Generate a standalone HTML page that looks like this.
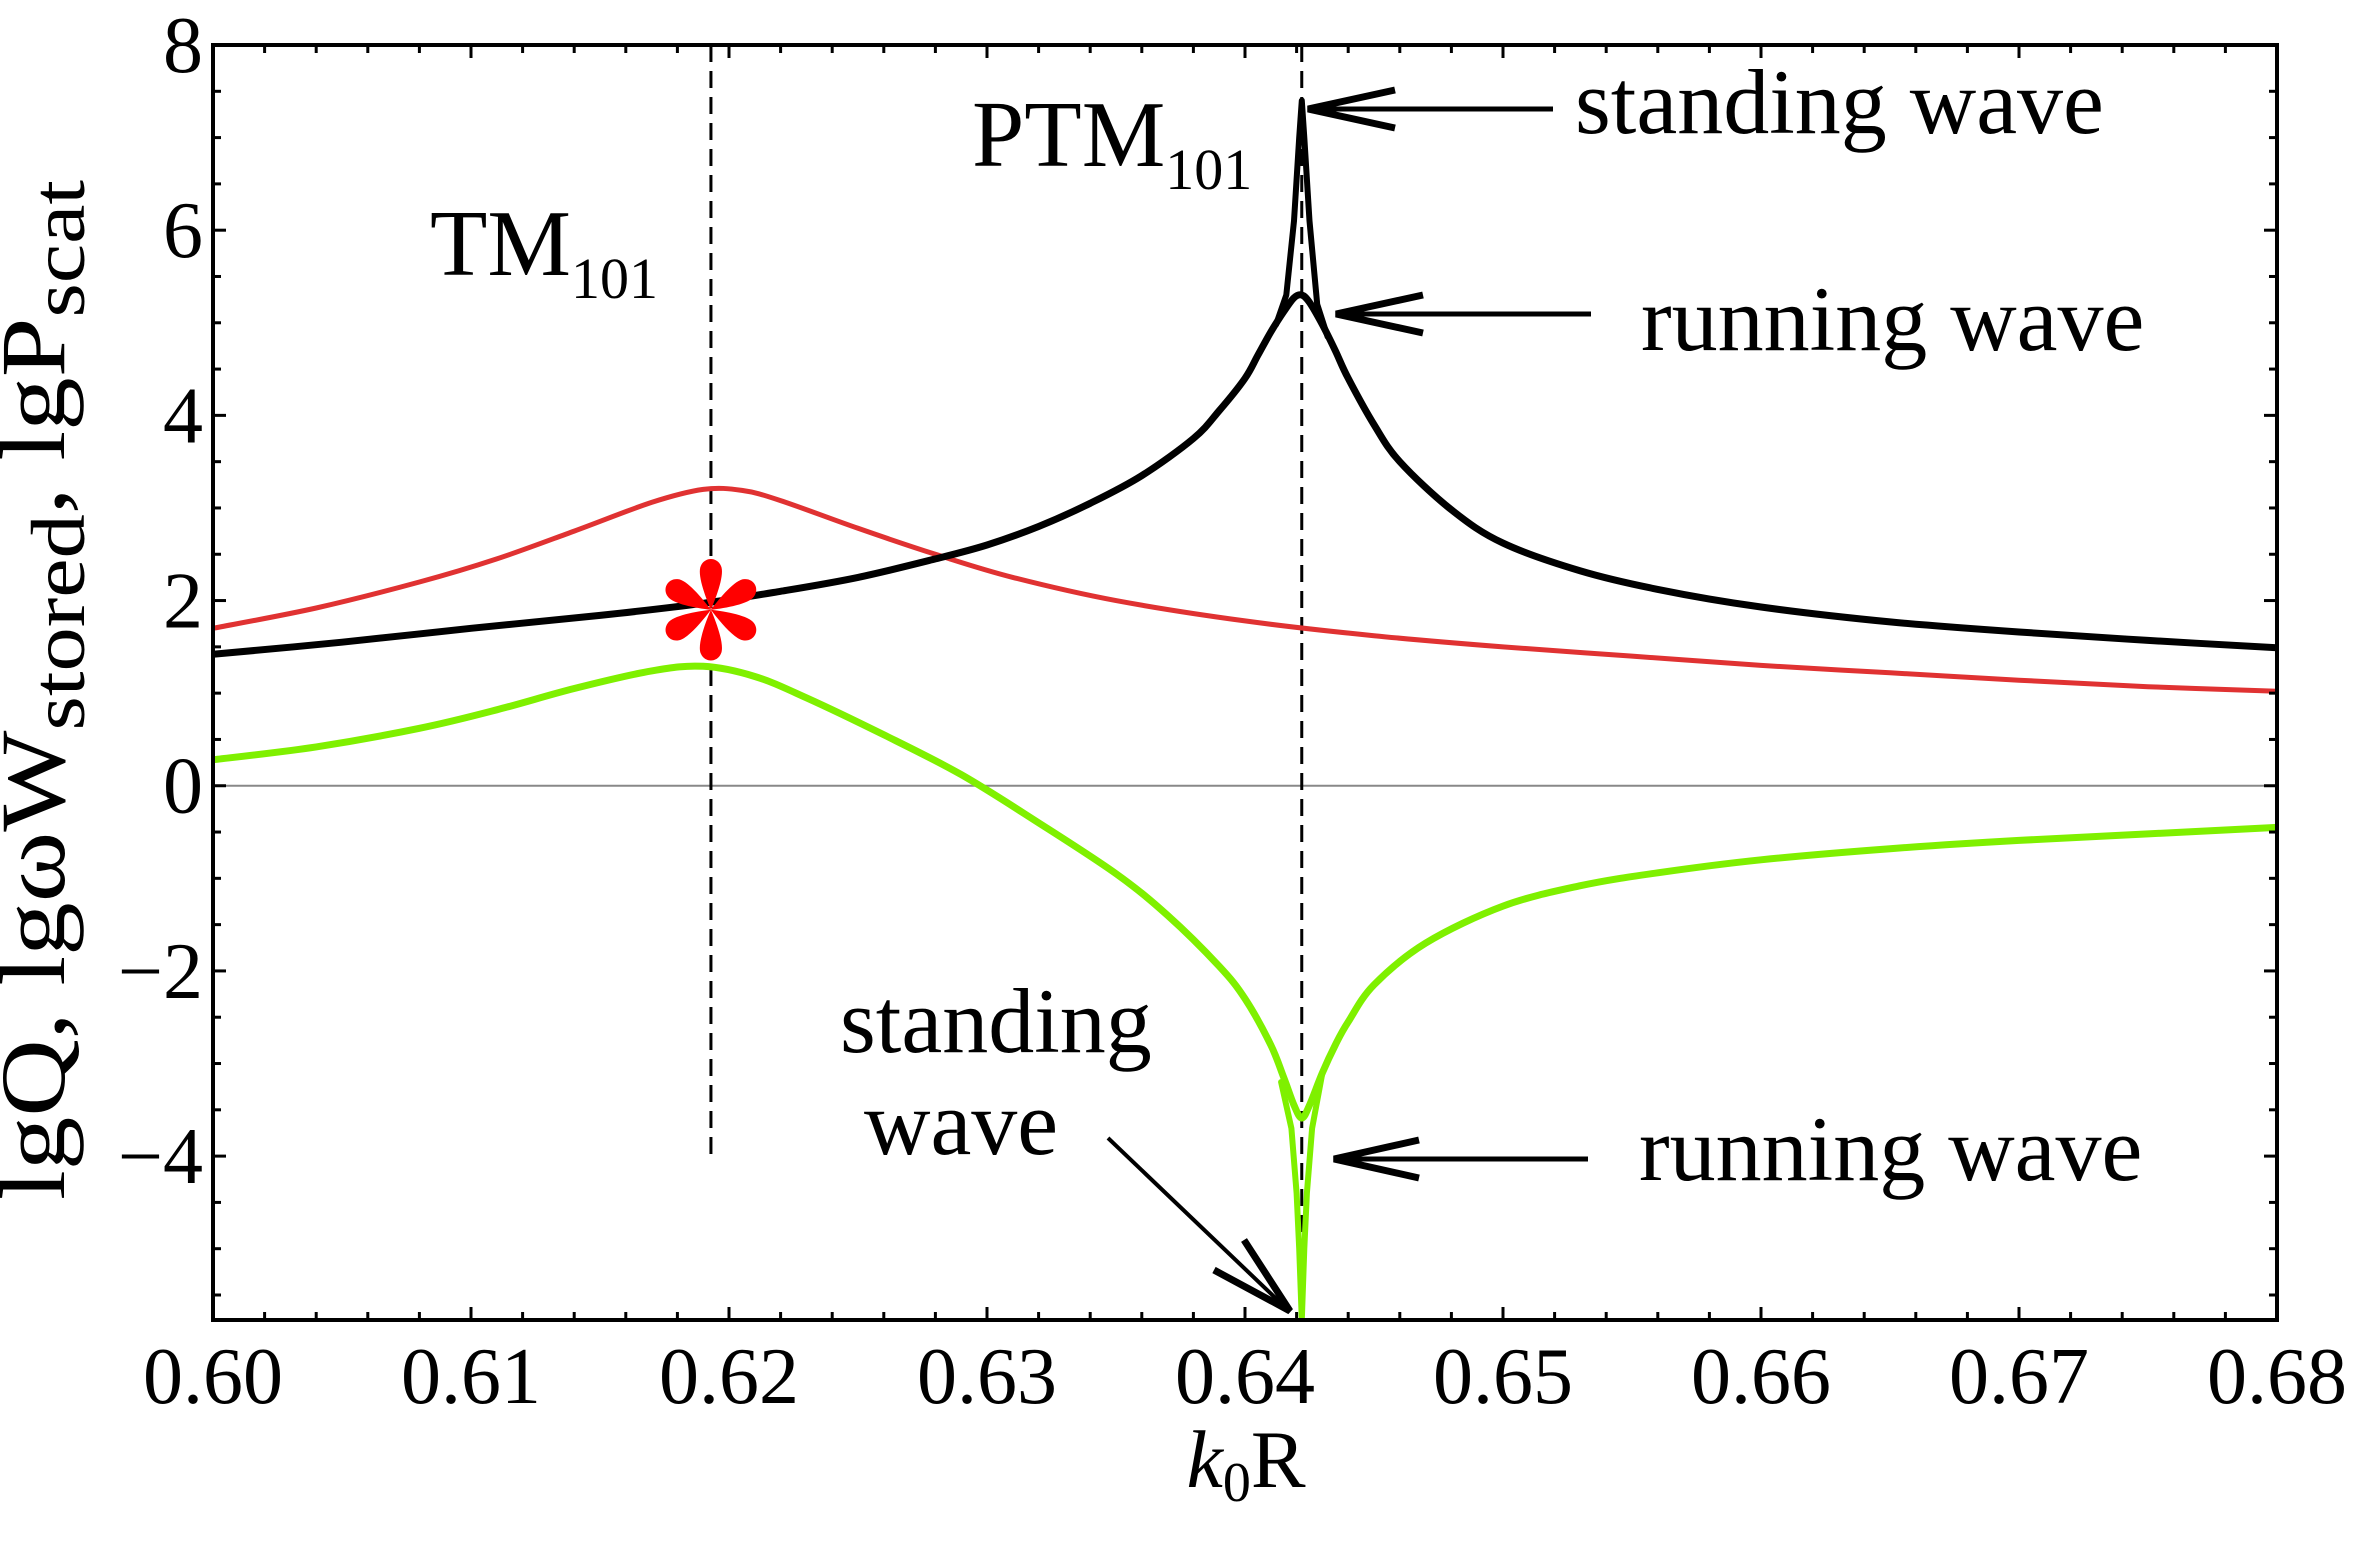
<!DOCTYPE html>
<html><head><meta charset="utf-8"><style>
html,body{margin:0;padding:0;background:#fff;}
svg{display:block;font-family:"Liberation Serif",serif;}
</style></head><body>
<svg id="chart" width="2365" height="1546" viewBox="0 0 2365 1546" xmlns="http://www.w3.org/2000/svg">
<defs>
<clipPath id="plotclip"><rect x="213" y="45" width="2064" height="1275"/></clipPath>
</defs>
<g id="grid"></g>
<g id="series" clip-path="url(#plotclip)"></g>
<g id="axes"></g>
<g id="annot">
  <text x="430" y="275" font-size="94">TM<tspan font-size="58" dy="23">101</tspan></text>
  <text x="972" y="166" font-size="94">PTM<tspan font-size="58" dy="23">101</tspan></text>
  <text x="1575" y="133" font-size="92">standing wave</text>
  <text x="1641" y="350" font-size="92">running wave</text>
  <text x="1639" y="1180" font-size="92">running wave</text>
  <text x="840" y="1052" font-size="92">standing</text>
  <text x="864" y="1154" font-size="92">wave</text>
  <g stroke="#000" fill="none" stroke-width="5">
    <line x1="1553" y1="109" x2="1310" y2="109"/>
    <path d="M1395,90 L1308,109 L1395,128" stroke-width="7" stroke-linejoin="miter"/>
  </g>
  <g stroke="#000" fill="none" stroke-width="5">
    <line x1="1591" y1="314" x2="1338" y2="314"/>
    <path d="M1423,295 L1336,314 L1423,333" stroke-width="7"/>
  </g>
  <g stroke="#000" fill="none" stroke-width="5">
    <line x1="1588" y1="1159" x2="1336" y2="1159"/>
    <path d="M1419,1140 L1334,1159 L1419,1178" stroke-width="7"/>
  </g>
  <g stroke="#000" fill="none" stroke-width="4">
    <line x1="1108" y1="1138" x2="1288" y2="1310"/>
    <path d="M1244,1240 L1290,1311 L1214,1270" stroke-width="7"/>
  </g>
</g>
<text x="1246" y="1487" font-size="82" text-anchor="middle"><tspan font-style="italic">k</tspan><tspan font-size="56" dy="14">0</tspan><tspan dy="-14">R</tspan></text>
<text transform="translate(64,690) rotate(-90)" font-size="92" text-anchor="middle" textLength="1020" lengthAdjust="spacingAndGlyphs">lgQ, lgωW<tspan font-size="76" dy="20">stored</tspan><tspan dy="-20">, lgP</tspan><tspan font-size="76" dy="20">scat</tspan></text>
</svg>
<script>
// ---- data ----
const xTicks = [0.60, 0.61, 0.62, 0.63, 0.64, 0.65, 0.66, 0.67, 0.68];
const xTickLabels = ["0.60","0.61","0.62","0.63","0.64","0.65","0.66","0.67","0.68"];
const yTicks = [8, 6, 4, 2, 0, -2, -4];
const yTickLabels = ["8","6","4","2","0","\u22122","\u22124"];

const blackRunX = [0.600,0.605,0.610,0.615,0.619,0.622,0.625,0.628,0.630,0.632,0.634,0.636,0.638,0.639,0.640,0.6405,0.641,0.6415,0.6419,0.6422,0.6425,0.643,0.6435,0.644,0.645,0.646,0.648,0.650,0.653,0.656,0.660,0.665,0.670,0.675,0.680];
const blackRunY = [1.42,1.55,1.70,1.84,1.97,2.10,2.25,2.45,2.60,2.80,3.05,3.35,3.75,4.05,4.40,4.65,4.90,5.12,5.27,5.30,5.22,4.98,4.70,4.40,3.90,3.50,2.98,2.62,2.32,2.12,1.93,1.77,1.66,1.57,1.49];
const blackStandX = [0.6412,0.6416,0.6419,0.6421,0.6422,0.6423,0.6425,0.6428,0.6432];
const blackStandY = [4.98,5.30,6.10,7.00,7.40,7.00,6.10,5.20,4.85];

const redX = [0.600,0.604,0.608,0.611,0.614,0.617,0.619,0.6205,0.622,0.625,0.628,0.631,0.635,0.640,0.645,0.650,0.655,0.660,0.665,0.670,0.675,0.680];
const redY = [1.70,1.92,2.20,2.45,2.75,3.06,3.20,3.19,3.08,2.78,2.50,2.25,2.00,1.78,1.62,1.50,1.40,1.30,1.22,1.14,1.07,1.02];

const greenRunX = [0.600,0.604,0.608,0.611,0.614,0.617,0.619,0.621,0.623,0.626,0.629,0.632,0.635,0.637,0.639,0.640,0.641,0.6415,0.6419,0.6422,0.6425,0.643,0.6435,0.644,0.645,0.647,0.650,0.653,0.656,0.660,0.665,0.670,0.675,0.680];
const greenRunY = [0.28,0.42,0.62,0.82,1.05,1.24,1.29,1.18,0.95,0.55,0.12,-0.40,-0.95,-1.40,-1.95,-2.30,-2.80,-3.15,-3.45,-3.59,-3.45,-3.10,-2.80,-2.55,-2.15,-1.70,-1.30,-1.08,-0.94,-0.80,-0.68,-0.59,-0.52,-0.45];
const greenStandX = [0.6414,0.6418,0.6420,0.6421,0.6422,0.6423,0.6424,0.6426,0.6430];
const greenStandY = [-3.20,-3.70,-4.40,-5.00,-5.77,-5.00,-4.40,-3.70,-3.10];

const vLines = [0.6193, 0.6422];
const vLineBottoms = [-4, -5.77];
const markerX = 0.6193, markerY = 1.9;

// ---- scales ----
const X0=213, X1=2277, Y0=45, Y1=1320;
const xMin=0.60, xMax=0.68, yMax=8, yMin=-5.77;
function sx(v){return X0+(v-xMin)/(xMax-xMin)*(X1-X0);}
function sy(v){return Y0+(yMax-v)/(yMax-yMin)*(Y1-Y0);}
const NS="http://www.w3.org/2000/svg";
function mk(tag, attrs, parent){const e=document.createElementNS(NS,tag);for(const k in attrs)e.setAttribute(k,attrs[k]);parent.appendChild(e);return e;}
const grid=document.getElementById('grid'), series=document.getElementById('series'), axes=document.getElementById('axes');

const zl=mk('line',{x1:X0,x2:X1,y1:sy(0),y2:sy(0),stroke:'#888','stroke-width':2},grid);



vLines.forEach((v,i)=>{
  const l=mk('line',{x1:sx(v),x2:sx(v),y1:Y0,y2:sy(vLineBottoms[i]),stroke:'#000','stroke-width':3,'stroke-dasharray':'17,9'},grid);
  
  
});

function drawLine(xs,ys,color,w,name,smooth){
  const P=xs.map((x,i)=>[sx(x),sy(ys[i])]);
  let d='M'+P[0][0].toFixed(1)+','+P[0][1].toFixed(1);
  for(let i=0;i<P.length-1;i++){
    const p0=P[Math.max(0,i-1)],p1=P[i],p2=P[i+1],p3=P[Math.min(P.length-1,i+2)];
    if(!smooth){d+=' L'+p2[0].toFixed(1)+','+p2[1].toFixed(1);continue;}
    const c1=[p1[0]+(p2[0]-p0[0])/6,p1[1]+(p2[1]-p0[1])/6];
    const c2=[p2[0]-(p3[0]-p1[0])/6,p2[1]-(p3[1]-p1[1])/6];
    d+=' C'+c1[0].toFixed(1)+','+c1[1].toFixed(1)+' '+c2[0].toFixed(1)+','+c2[1].toFixed(1)+' '+p2[0].toFixed(1)+','+p2[1].toFixed(1);
  }
  const p=mk('path',{d:d,fill:'none',stroke:color,'stroke-width':w,'stroke-linejoin':'round','stroke-linecap':'round'},series);
  
  
}
drawLine(redX,redY,'#e03232',5,'red-curve',true);
drawLine(greenRunX,greenRunY,'#7ff000',7,'green-running-curve',true);
drawLine(greenStandX,greenStandY,'#7ff000',6,'green-standing-curve',false);
drawLine(blackRunX,blackRunY,'#000',7,'black-running-curve',true);
drawLine(blackStandX,blackStandY,'#000',6,'black-standing-curve',false);

const mg=mk('g',{transform:'translate('+sx(markerX).toFixed(1)+','+sy(markerY).toFixed(1)+')',fill:'#ff0000'},series);


for(let k=0;k<6;k++){
  mk('path',{d:'M0,0 C-6,-14 -14,-36 -10,-44 C-6,-53 6,-53 10,-44 C14,-36 6,-14 0,0 Z',transform:'rotate('+(k*60)+')'},mg);
}

const fr=mk('rect',{x:X0,y:Y0,width:X1-X0,height:Y1-Y0,fill:'none',stroke:'#000','stroke-width':4},axes);



for(let i=0;i<=40;i++){
  const v=xMin+i*0.002; const x=sx(v); const major=(i%5===0); const L=major?13:8;
  mk('line',{x1:x,x2:x,y1:Y1,y2:Y1-L,stroke:'#000','stroke-width':3},axes);
  mk('line',{x1:x,x2:x,y1:Y0,y2:Y0+L,stroke:'#000','stroke-width':3},axes);
}
xTicks.forEach((v,i)=>{
  const t=mk('text',{x:sx(v),y:1403,'font-size':80,'text-anchor':'middle'},axes);
  t.textContent=xTickLabels[i];
  
  
});
for(let v=-5.5; v<=8; v+=0.5){
  const y=sy(v); const major=(Math.abs(v%2)<1e-9); const L=major?13:8;
  mk('line',{x1:X0,x2:X0+L,y1:y,y2:y,stroke:'#000','stroke-width':3},axes);
  mk('line',{x1:X1,x2:X1-L,y1:y,y2:y,stroke:'#000','stroke-width':3},axes);
}
yTicks.forEach((v,i)=>{
  const t=mk('text',{x:203,y:sy(v)+27,'font-size':80,'text-anchor':'end'},axes);
  t.textContent=yTickLabels[i];
  
  
});
</script>
</body></html>
